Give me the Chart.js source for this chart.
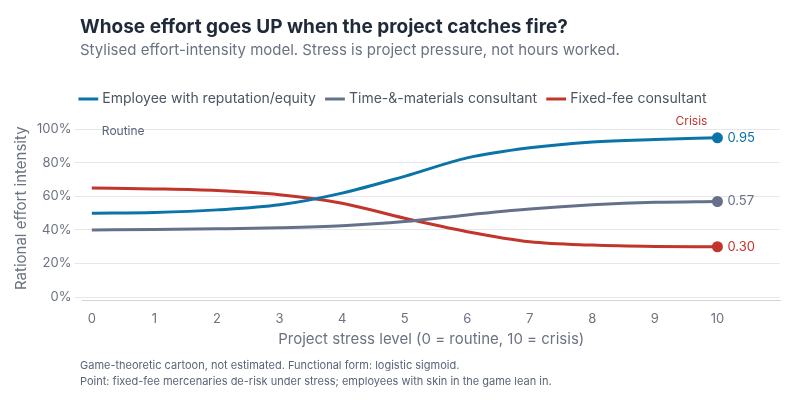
<!DOCTYPE html><html><head><meta charset="utf-8">
<script src="https://cdn.jsdelivr.net/npm/chart.js@4"></script>
<style>body{margin:0;background:#fff}#w{width:800px;height:400px}</style></head><body>
<div id="w"><canvas id="c" width="800" height="400"></canvas></div>
<script>
const stress=[0,1,2,3,4,5,6,7,8,9,10];
const employee=[0.50,0.505,0.52,0.55,0.62,0.72,0.83,0.89,0.925,0.94,0.95];
const timeMat=[0.40,0.403,0.407,0.413,0.425,0.45,0.49,0.525,0.55,0.565,0.57];
const fixedFee=[0.65,0.645,0.635,0.61,0.56,0.47,0.39,0.33,0.31,0.302,0.30];
const yTicks=[0,0.2,0.4,0.6,0.8,1.0];
const names=['Employee with reputation/equity','Time-&-materials consultant','Fixed-fee consultant'];
const cols=['#0a73a8','#657089','#c2352a'];
const F='Inter';
const mk=(d,i)=>({label:names[i],data:stress.map((x,j)=>({x,y:d[j]})),borderColor:cols[i],backgroundColor:cols[i],borderWidth:3,cubicInterpolationMode:'monotone',
 pointRadius:stress.map(x=>x===10?4:0),pointHoverRadius:0});
const endLabels={id:'el',afterDatasetsDraw(ch){const c=ch.ctx;c.save();c.font='13px '+F;c.textBaseline='middle';
 ch.data.datasets.forEach((ds,i)=>{const m=ch.getDatasetMeta(i).data[10];c.fillStyle=cols[i];c.fillText(ds.data[10].y.toFixed(2),m.x+10,m.y);});
 const xs=ch.scales.x,ys=ch.scales.y;c.font='12px '+F;c.fillStyle='#5a6478';c.fillText('Routine',xs.getPixelForValue(0)+10,ys.getPixelForValue(1.0)+2);
 c.fillStyle='#c2352a';c.textAlign='right';c.fillText('Crisis',xs.getPixelForValue(10)-10,ys.getPixelForValue(1.0)-8);
 c.textAlign='left';
 c.font='bold 19px '+F;c.fillStyle='#1f2937';c.fillText('Whose effort goes UP when the project catches fire?',80,27);
 c.font='15px '+F;c.fillStyle='#6b7280';c.fillText('Stylised effort-intensity model. Stress is project pressure, not hours worked.',80,50);
 c.font='11px '+F;c.fillStyle='#5a6478';
 c.fillText('Game-theoretic cartoon, not estimated. Functional form: logistic sigmoid.',80,366);
 c.fillText('Point: fixed-fee mercenaries de-risk under stress; employees with skin in the game lean in.',80,382);
 c.restore();}};
new Chart(document.getElementById('c'),{type:'line',data:{datasets:[mk(employee,0),mk(timeMat,1),mk(fixedFee,2)]},
options:{responsive:false,animation:false,layout:{padding:{left:8,right:20,bottom:52,top:80}},
plugins:{legend:{labels:{usePointStyle:true,pointStyle:'line',color:'#4b5563',font:{family:F,size:14},boxWidth:22,padding:12}},tooltip:{enabled:false}},
scales:{x:{type:'linear',min:-0.15,max:11,afterBuildTicks:a=>{a.ticks=stress.map(v=>({value:v}))},grid:{display:false},border:{color:'#d1d5db'},
 ticks:{color:'#6b7280',font:{family:F,size:13}},title:{display:true,text:'Project stress level (0 = routine, 10 = crisis)',color:'#6b7280',font:{family:F,size:15},padding:0}},
 y:{min:-0.02,max:1.08,afterBuildTicks:a=>{a.ticks=yTicks.map(v=>({value:v}))},grid:{color:'#e5e7eb'},border:{display:false},
 ticks:{color:'#6b7280',font:{family:F,size:13},callback:v=>Math.round(v*100)+'%'},title:{display:true,text:'Rational effort intensity',color:'#6b7280',font:{family:F,size:15}}}}},
plugins:[endLabels]});
</script></body></html>
